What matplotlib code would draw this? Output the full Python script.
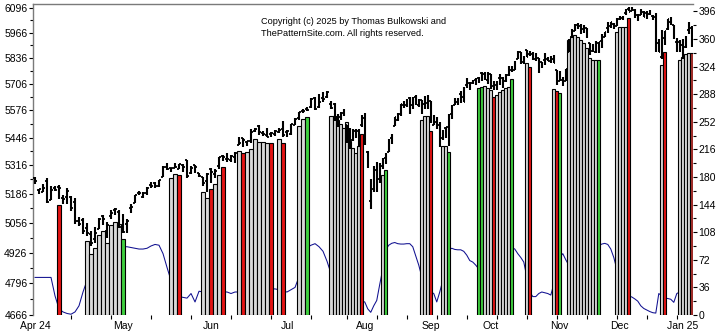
import numpy as np
import matplotlib
matplotlib.use('Agg')
import matplotlib.pyplot as plt

plt.rcParams['font.family'] = ['Liberation Sans', 'DejaVu Sans']

# ---------------- data ----------------
month_labels = ['Apr 24', 'May', 'Jun', 'Jul', 'Aug', 'Sep', 'Oct', 'Nov', 'Dec', 'Jan 25']
month_start_idx = [0, 22, 44, 63, 85, 107, 127, 150, 170, 191]

opens = [5258, 5204, 5194, 5244, 5159, 5211, 5217, 5168, 5173, 5172, 5150, 5065, 5069, 5032, 5005, 4987,
         5029, 5085, 5020, 5085, 5114, 5104, 5029, 5049, 5123, 5142, 5187, 5169, 5189, 5225, 5233, 5221,
         5263, 5310, 5303, 5305, 5299, 5319, 5340, 5281, 5316, 5279, 5260, 5243, 5297, 5278, 5314, 5358,
         5344, 5341, 5353, 5409, 5442, 5424, 5431, 5476, 5500, 5467, 5460, 5461, 5461, 5474, 5488, 5471,
         5462, 5507, 5538, 5573, 5584, 5591, 5635, 5591, 5638, 5644, 5610, 5609, 5543, 5545, 5565, 5506,
         5429, 5434, 5477, 5479, 5506, 5538, 5377, 5151, 5206, 5293, 5253, 5313, 5352, 5377, 5443, 5501,
         5531, 5557, 5603, 5603, 5638, 5602, 5640, 5603, 5625, 5607, 5613, 5624, 5507, 5520, 5507, 5442,
         5491, 5496, 5557, 5603, 5615, 5656, 5642, 5703, 5709, 5712, 5728, 5734, 5762, 5755, 5727, 5758,
         5698, 5699, 5738, 5738, 5719, 5752, 5778, 5775, 5830, 5867, 5817, 5876, 5859, 5858, 5833, 5835,
         5818, 5827, 5834, 5820, 5833, 5775, 5723, 5725, 5722, 5865, 5947, 5977, 6009, 6004, 5986, 5990,
         5913, 5874, 5870, 5914, 5924, 5944, 5992, 6000, 6014, 6004, 6040, 6043, 6069, 6089, 6081, 6084,
         6058, 6060, 6074, 6068, 6064, 6053, 6048, 5913, 5842, 5940, 5985, 6025, 6006, 5921, 5920, 5903,
         5891, 5983, 5993]
highs = [5264, 5208, 5229, 5257, 5222, 5220, 5225, 5178, 5212, 5175, 5168, 5080, 5078, 5057, 5019, 5039,
         5076, 5089, 5058, 5115, 5123, 5111, 5096, 5073, 5139, 5181, 5200, 5192, 5215, 5240, 5237, 5250,
         5312, 5325, 5305, 5325, 5324, 5323, 5342, 5312, 5316, 5282, 5260, 5280, 5302, 5299, 5354, 5362,
         5375, 5366, 5376, 5447, 5442, 5432, 5489, 5490, 5506, 5478, 5491, 5473, 5483, 5491, 5524, 5480,
         5510, 5539, 5570, 5583, 5591, 5635, 5642, 5656, 5667, 5670, 5622, 5614, 5558, 5570, 5585, 5508,
         5492, 5488, 5488, 5489, 5552, 5566, 5384, 5251, 5312, 5331, 5328, 5352, 5371, 5437, 5463, 5546,
         5562, 5608, 5621, 5633, 5643, 5642, 5652, 5631, 5627, 5647, 5651, 5624, 5553, 5546, 5522, 5484,
         5498, 5560, 5601, 5636, 5636, 5671, 5690, 5734, 5715, 5725, 5735, 5741, 5767, 5764, 5765, 5758,
         5719, 5719, 5754, 5739, 5758, 5797, 5795, 5822, 5871, 5870, 5847, 5878, 5872, 5867, 5863, 5835,
         5818, 5863, 5843, 5847, 5851, 5775, 5773, 5741, 5783, 5936, 5984, 6012, 6017, 6010, 6008, 5994,
         5915, 5909, 5923, 5921, 5961, 5973, 6021, 6025, 6020, 6044, 6054, 6052, 6090, 6100, 6100, 6089,
         6065, 6093, 6080, 6079, 6085, 6058, 6071, 5936, 5982, 5978, 6040, 6050, 6006, 5941, 5930, 5935,
         5949, 6021, 6001]
lows = [5229, 5184, 5194, 5146, 5157, 5197, 5161, 5139, 5139, 5108, 5052, 5040, 5007, 4998, 4954, 4969,
        5028, 5047, 4991, 5073, 5089, 5035, 5013, 5011, 5101, 5142, 5179, 5166, 5180, 5210, 5211, 5218,
        5263, 5296, 5284, 5302, 5298, 5286, 5257, 5278, 5281, 5263, 5222, 5192, 5234, 5258, 5298, 5335,
        5331, 5332, 5327, 5409, 5403, 5404, 5420, 5471, 5456, 5452, 5448, 5447, 5452, 5468, 5451, 5447,
        5458, 5507, 5532, 5563, 5575, 5586, 5577, 5590, 5615, 5639, 5585, 5523, 5497, 5529, 5551, 5420,
        5391, 5431, 5444, 5402, 5496, 5410, 5302, 5119, 5194, 5196, 5234, 5301, 5324, 5377, 5415, 5501,
        5525, 5551, 5586, 5592, 5561, 5585, 5602, 5593, 5561, 5584, 5582, 5514, 5504, 5486, 5403, 5434,
        5442, 5407, 5536, 5602, 5605, 5614, 5615, 5686, 5674, 5705, 5699, 5712, 5721, 5727, 5704, 5681,
        5674, 5677, 5703, 5687, 5715, 5745, 5765, 5775, 5830, 5804, 5808, 5840, 5846, 5825, 5821, 5762,
        5785, 5800, 5823, 5810, 5811, 5703, 5723, 5697, 5722, 5865, 5947, 5977, 5987, 5960, 5966, 5942,
        5853, 5866, 5863, 5861, 5889, 5944, 5964, 5992, 5985, 6004, 6035, 6033, 6061, 6080, 6080, 6043,
        6026, 6060, 6051, 6036, 6059, 6035, 5868, 5866, 5832, 5903, 5981, 6007, 5933, 5869, 5869, 5830,
        5889, 5960, 5891]
closes = [5244, 5206, 5211, 5147, 5204, 5202, 5210, 5161, 5199, 5123, 5062, 5051, 5022, 5011, 4967, 5011,
          5071, 5072, 5048, 5100, 5116, 5036, 5018, 5064, 5128, 5181, 5188, 5188, 5214, 5223, 5221, 5247,
          5308, 5297, 5303, 5308, 5321, 5307, 5268, 5305, 5306, 5267, 5235, 5278, 5283, 5291, 5354, 5353,
          5347, 5361, 5375, 5421, 5434, 5432, 5473, 5487, 5473, 5465, 5448, 5469, 5478, 5483, 5460, 5475,
          5509, 5537, 5567, 5573, 5577, 5634, 5585, 5615, 5631, 5667, 5588, 5545, 5505, 5564, 5556, 5427,
          5399, 5459, 5464, 5436, 5522, 5447, 5347, 5186, 5240, 5200, 5319, 5344, 5344, 5434, 5455, 5543,
          5554, 5608, 5597, 5621, 5571, 5635, 5617, 5626, 5592, 5592, 5648, 5529, 5520, 5503, 5408, 5471,
          5496, 5554, 5596, 5626, 5633, 5635, 5618, 5714, 5703, 5719, 5733, 5722, 5745, 5738, 5762, 5709,
          5710, 5700, 5751, 5696, 5751, 5792, 5780, 5815, 5860, 5815, 5842, 5841, 5865, 5854, 5851, 5797,
          5810, 5808, 5824, 5833, 5814, 5705, 5729, 5713, 5783, 5929, 5973, 5996, 6001, 5984, 5985, 5949,
          5871, 5894, 5917, 5917, 5949, 5969, 5987, 6022, 5999, 6032, 6047, 6050, 6086, 6075, 6090, 6053,
          6035, 6084, 6051, 6051, 6074, 6051, 5872, 5867, 5931, 5974, 6040, 6038, 5971, 5907, 5882, 5869,
          5942, 5975, 5909]

# histogram bars (right axis)
bar_idx = [6, 13, 14, 15, 16, 17, 18, 19, 20, 21, 22, 34, 35, 36, 42, 43, 44, 45, 46, 47,
           51, 52, 53, 54, 55, 56, 57, 58, 59, 61, 62, 66, 67, 68,
           74, 75, 76, 77, 78, 79, 80, 81, 82, 83, 84, 91, 92, 104, 105, 106, 107, 111, 112, 113,
           123, 124, 125, 126, 127, 128, 129, 130, 131, 132, 133, 134, 139, 140, 148, 149, 150,
           153, 154, 155, 156, 157, 158, 159, 160, 161, 162, 163, 169, 170, 171, 172, 173,
           184, 185, 190, 191, 192, 193, 194]
bar_val = [143, 96, 80, 87, 104, 109, 94, 117, 121, 118, 99, 178, 184, 182, 160, 152, 164, 171, 182, 193,
           214, 211, 212, 216, 230, 226, 225, 224, 224, 229, 224, 247, 255, 258,
           260, 260, 254, 249, 244, 251, 227, 218, 211, 221, 236, 182, 189, 254, 260, 260, 240, 221, 221, 212,
           296, 297, 298, 296, 293, 284, 287, 291, 293, 296, 297, 308, 329, 324, 295, 292, 290,
           359, 363, 365, 363, 359, 354, 348, 335, 332, 332, 332, 369, 375, 376, 376, 387,
           326, 343, 333, 337, 340, 341, 342]
bar_kind = ['r', 'g', 'g', 'g', 'g', 'g', 'g', 'g', 'g', 'g', 'G', 'g', 'g', 'r', 'g', 'g', 'r', 'g', 'g', 'r',
            'g', 'r', 'g', 'g', 'g', 'g', 'g', 'g', 'r', 'g', 'r', 'g', 'g', 'G',
            'g', 'g', 'g', 'g', 'g', 'g', 'g', 'g', 'g', 'g', 'r', 'g', 'G', 'g', 'g', 'g', 'r', 'g', 'g', 'G',
            'G', 'G', 'g', 'g', 'g', 'r', 'g', 'g', 'g', 'g', 'g', 'G', 'g', 'r', 'g', 'r', 'G',
            'g', 'g', 'g', 'g', 'g', 'g', 'g', 'g', 'g', 'g', 'G', 'g', 'g', 'g', 'g', 'r',
            'g', 'r', 'g', 'g', 'g', 'g', 'd']

# blue indicator line (right axis), one value per trading day
line_val = [49, 49, 49, 49, 49, 25, 8, 4, 2, 1, 4, 12, 30,
            45, 55, 65, 75, 80, 85, 88, 90, 90, 89,
            89, 88, 87, 86, 86, 87, 90, 92, 91, 80, 62,
            45, 30, 24, 23, 22, 28, 17, 31,
            30, 28, 26, 28, 30, 30, 30, 28, 30,
            30, 31, 32, 33, 33, 33, 34, 34, 34, 34, 33, 31,
            30, 33, 36, 50, 70, 88, 91, 93, 89, 83, 70,
            54, 45, 40, 35, 30, 28, 25, 22, 20, 19, 18,
            17, 8, 3.5, 12, 19, 40, 60, 85,
            91, 93.5, 94.5, 93, 92.5, 92.5, 93, 93, 89, 77, 65,
            50, 40, 35, 30, 28, 17, 30, 45, 65, 85,
            87, 85.5, 85, 85, 83, 78, 71, 69, 65,
            60, 60, 60, 60, 60, 60, 60, 60, 60, 70, 80, 88,
            86, 80, 75, 69, 50, 30,
            24, 24, 28, 30, 29, 28, 26, 40, 60, 75, 80, 72,
            65, 70, 75, 80, 85, 88, 90, 90, 90, 90, 90,
            92.5, 93.4, 92, 86, 75, 60, 50, 40, 30, 25,
            23.5, 21, 18, 12, 8.5, 6.5, 4.5, 3, 2.5, 28, 25, 22,
            21.5, 20.5, 16.5, 28, 30, 30, 30, 30, 30]

price_ticks = [4666, 4796, 4926, 5056, 5186, 5316, 5446, 5576, 5706, 5836, 5966, 6096]
count_ticks = [0, 36, 72, 108, 144, 180, 216, 252, 288, 324, 360, 396]
copyright_lines = ['Copyright (c) 2025 by Thomas Bulkowski and',
                   'ThePatternSite.com. All rights reserved.']

# ---------------- styling / layout ----------------
W, H = 725, 334
FS = 7.5
BREAK = 74.7          # bar spacing changes from 4 px to 3 px per day here


def fwd(x):
    x = np.asarray(x, dtype=float)
    return np.where(x <= BREAK, 4.0 * x, 4.0 * BREAK + 3.0 * (x - BREAK))


def inv(t):
    t = np.asarray(t, dtype=float)
    return np.where(t <= 4.0 * BREAK, t / 4.0, BREAK + (t - 4.0 * BREAK) / 3.0)


colors = {'g': '#d9d9d9', 'r': '#e31414', 'G': '#3fcf3f', 'd': '#a8302c'}

fig = plt.figure(figsize=(W / 100, H / 100), dpi=100)
ax = fig.add_axes([33 / W, 19 / H, 660 / W, 311 / H])
ax.set_xscale('function', functions=(fwd, inv))

n = len(closes)
idx = np.arange(n)

# blue line and bars on the count axis
ax.plot(idx, line_val, color='#101090', lw=0.75, zorder=1)
ax.bar(bar_idx, bar_val, width=1.0, color=[colors[k] for k in bar_kind],
       edgecolor='black', linewidth=0.8, zorder=2)
ax.set_ylim(0, 405.5)
ax.set_xlim(-0.5, 194.4)

# price axis on top
ax2 = ax.twinx()
ax2.set_yscale('log')
ax2.set_ylim(4666, 6118)
o = np.array(opens); h = np.array(highs); l = np.array(lows); c = np.array(closes)
ax2.vlines(idx, l, h, color='black', lw=1.5, zorder=3)
ax2.hlines(o, idx - 0.5, idx, color='black', lw=1.3, zorder=3)
ax2.hlines(c, idx, idx + 0.5, color='black', lw=1.3, zorder=3)

# y ticks: count axis on right, price axis on left
ax.yaxis.set_ticks_position('right')
ax.set_yticks(count_ticks)
ax.set_yticklabels([str(v) for v in count_ticks])
ax.set_yticks([v + 18 for v in count_ticks[:-1]], minor=True)
ax.tick_params(axis='y', which='major', direction='out', length=3, width=0.8, pad=1,
               labelsize=FS, colors='black')
ax.tick_params(axis='y', which='minor', direction='out', length=2, width=0.8)

ax2.yaxis.set_ticks_position('left')
ax2.set_yticks(price_ticks)
ax2.set_yticklabels([str(v) for v in price_ticks])
ax2.yaxis.set_minor_locator(matplotlib.ticker.FixedLocator(
    [(a + b) / 2 for a, b in zip(price_ticks[:-1], price_ticks[1:])]))
ax2.yaxis.set_minor_formatter(matplotlib.ticker.NullFormatter())
ax2.tick_params(axis='y', which='major', direction='out', length=3, width=0.8, pad=1,
                labelsize=FS, colors='black')
ax2.tick_params(axis='y', which='minor', direction='out', length=2, width=0.8)

# x ticks
ax.set_xticks(month_start_idx)
ax.set_xticklabels(month_labels)
ax.set_xticks(list(range(9, n, 10)), minor=True)
ax.tick_params(axis='x', which='major', length=0, pad=4, labelsize=FS)
ax.tick_params(axis='x', which='minor', direction='out', length=3, width=0.8)

for s in ax.spines.values():
    s.set_visible(False)
for name, s in ax2.spines.items():
    if name in ('right', 'bottom'):
        s.set_visible(False)
    else:
        s.set_color('#7a7a7a')
        s.set_linewidth(1.0)

fig.text(261 / W, 1 - 22 / H, copyright_lines[0], fontsize=6.6, ha='left', va='center')
fig.text(261 / W, 1 - 33 / H, copyright_lines[1], fontsize=6.6, ha='left', va='center')

fig.savefig('out.png', dpi=100)
